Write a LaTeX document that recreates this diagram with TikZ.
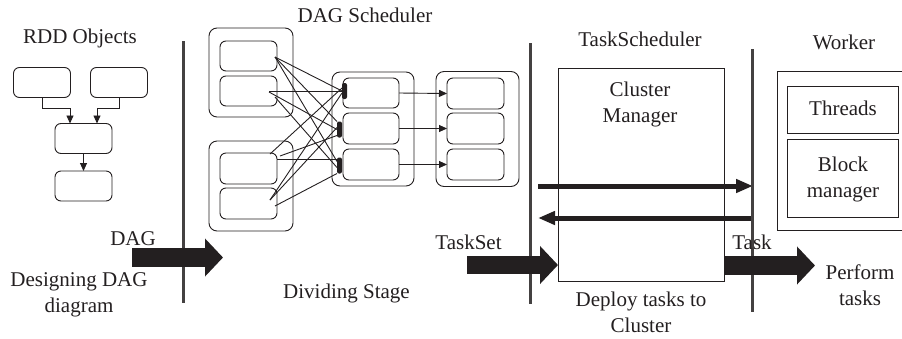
\documentclass[tikz,border=0pt]{standalone}
\usepackage{fontspec}
\setmainfont{Liberation Serif}
\usetikzlibrary{arrows.meta,calc}
\definecolor{ink}{HTML}{231F20}
\begin{document}
\begin{tikzpicture}[x=1pt,y=-1pt,
  every node/.style={text=ink},
  lbl/.style={font=\fontsize{21}{25.5}\selectfont, align=center, inner sep=0pt},
  rbox/.style={draw=ink, line width=0.9pt, rounded corners=6pt, inner sep=0pt, outer sep=0pt,
               minimum width=57pt, minimum height=30pt},
  grp/.style={draw=ink, line width=0.9pt, rounded corners=8pt, inner sep=0pt, outer sep=0pt},
  sbox/.style={draw=ink, line width=1pt, inner sep=0pt, outer sep=0pt},
  bar/.style={fill=ink, rounded corners=2pt, inner sep=0pt, outer sep=0pt,
              minimum width=5pt, minimum height=16pt},
  wire/.style={draw=ink, line width=0.9pt},
  flow/.style={draw=ink, line width=0.9pt, -{Triangle[length=8pt,width=7pt]}},
  divider/.style={draw=ink!85, line width=3pt},
  fat/.style={draw=ink, line width=19pt, -{Triangle[length=18pt,width=37pt]}},
  msg/.style={draw=ink, line width=5pt, -{Triangle[length=17pt,width=13pt]}},
]
\useasboundingbox (0,0) rectangle (902,338);

% ---------- RDD objects ----------
\node[lbl, anchor=base] (trdd) at (80,43) {RDD Objects};
\node[rbox] (r1) at (42,82.5) {};
\node[rbox] (r2) at (119,82.5) {};
\node[rbox] (r3) at (83.5,138.5) {};
\node[rbox] (r4) at (83.5,186) {};
\draw[flow] (r1.south) -- ++(0,11) -| ($(r3.north)+(-13.5,0)$);
\draw[flow] (r2.south) -- ++(0,11) -| ($(r3.north)+(13.5,0)$);
\draw[flow] (r3.south) -- (r4.north);

% ---------- dividers ----------
\coordinate (v1a) at (183,41);  \coordinate (v1b) at (183,303);
\coordinate (v2a) at (530,43);  \coordinate (v2b) at (530,304);
\coordinate (v3a) at (752,49);  \coordinate (v3b) at (752,312);
\draw[divider] (v1a) -- (v1b);
\draw[divider] (v2a) -- (v2b);

% ---------- DAG scheduler ----------
\node[lbl, anchor=base] (tdag) at (365,22) {DAG Scheduler};
\node[grp, minimum width=84pt, minimum height=89pt] (gA) at (251,72.5) {};
\node[rbox] (a1) at (248.5,56) {};
\node[rbox] (a2) at (248.5,91) {};
\node[grp, minimum width=84pt, minimum height=90pt] (gB) at (251,186) {};
\node[rbox, minimum height=31pt] (b1) at (248.5,168.5) {};
\node[rbox, minimum height=31pt] (b2) at (248.5,203.5) {};
\node[grp, minimum width=82pt, minimum height=114pt] (gC) at (373,129) {};
\node[rbox, minimum width=56pt] (c1) at (371,93) {};
\node[rbox, minimum width=56pt, minimum height=31pt] (c2) at (371,128.5) {};
\node[rbox, minimum width=56pt, minimum height=31pt] (c3) at (371,164.5) {};
\node[grp, minimum width=83pt, minimum height=115pt] (gD) at (477.5,129) {};
\node[rbox, minimum width=57pt, minimum height=31pt] (d1) at (475.5,93.5) {};
\node[rbox, minimum width=57pt, minimum height=31pt] (d2) at (475.5,128.5) {};
\node[rbox, minimum width=57pt, minimum height=31pt] (d3) at (475.5,164.5) {};
\node[bar] (k1) at (344.5,91) {};
\node[bar] (k2) at (339.5,129.5) {};
\node[bar] (k3) at (339.5,165.5) {};

% shuffle links between the two upstream stages and the bars
\draw[wire] ($(a1.east)+(-2,1)$) -- (k1.west);
\draw[wire] ($(a1.east)+(-2,1)$) -- (k2.north west);
\draw[wire] ($(a1.east)+(-2,1)$) -- ($(k3.west)+(0,-4)$);
\draw[wire] ($(a2.east)+(-8,0)$) -- (k1.west);
\draw[wire] ($(a2.east)+(-8,1)$) -- (k2.west);
\draw[wire] ($(a2.east)+(-2,6)$) -- ($(k3.west)+(0,2)$);
\draw[wire] ($(b1.east)+(-7,-14.5)$) -- ($(k1.west)+(0,-3)$);
\draw[wire] ($(b1.east)+(3,-12.5)$) -- ($(k2.west)+(0,6)$);
\draw[wire] ($(b1.east)+(0,-9.5)$) -- ($(k3.west)+(0,-6.5)$);
\draw[wire] ($(b2.east)+(-7,-3.5)$) -- ($(k1.west)+(0,2)$);
\draw[wire] ($(b2.east)+(-7,-3.5)$) -- ($(k2.west)+(0,-2)$);
\draw[wire] ($(b2.east)+(-2,2.5)$) -- ($(k3.west)+(0,8)$);

\draw[flow] (c1.east) -- (d1.west);
\draw[flow] (c2.east) -- (d2.west);
\draw[flow] (c3.east) -- (d3.west);

% ---------- task scheduler ----------
\node[lbl, anchor=base] (tts) at (640,46) {TaskScheduler};
\node[sbox, minimum width=166pt, minimum height=213pt] (cm) at (641,174.5) {};
\node[lbl, anchor=base] (tcm) at (640,122) {Cluster\\Manager};
\coordinate (m1a) at (538,186);  \coordinate (m1b) at (753,186);
\coordinate (m2a) at (753,218);  \coordinate (m2b) at (538,218);
\draw[msg] (m1a) -- (m1b);
\draw[msg] (m2a) -- (m2b);
\draw[divider] (v3a) -- (v3b);

% ---------- worker ----------
\node[lbl, anchor=base] (twk) at (844,49) {Worker};
\node[sbox, minimum width=134pt, minimum height=159pt] (wk) at (844,150.5) {};
\node[sbox, minimum width=111pt, minimum height=47pt] (th) at (842.5,109.5) {};
\node[lbl, anchor=base] at (843,115) {Threads};
\node[sbox, minimum width=111pt, minimum height=78pt] (bm) at (842.5,178) {};
\node[lbl, anchor=base] at (843,197) {Block\\manager};

% ---------- stage hand-offs ----------
\node[lbl, anchor=base] (tdg) at (133,245) {DAG};
\coordinate (dagA) at (132,257.5);
\coordinate (dagB) at (223,257.5);
\draw[fat] (dagA) -- (dagB);
\node[lbl, anchor=base] at (79,312) {Designing DAG\\diagram};

\node[lbl, anchor=base] (tset) at (468.5,249) {TaskSet};
\coordinate (tsA) at (467,265);
\draw[fat, line width=18pt] (tsA) -- (tsA -| cm.west);

\node[lbl, anchor=base] (ttask) at (752,249) {Task};
\coordinate (tkB) at (815,265.5);
\draw[fat] (tkB -| cm.east) -- (tkB);
\node[lbl, anchor=base] at (860,305) {Perform\\tasks};

\node[lbl, anchor=base] at (346.5,298) {Dividing Stage};
\node[lbl, anchor=base] at (641,332) {Deploy tasks to\\Cluster};
\end{tikzpicture}
\end{document}
